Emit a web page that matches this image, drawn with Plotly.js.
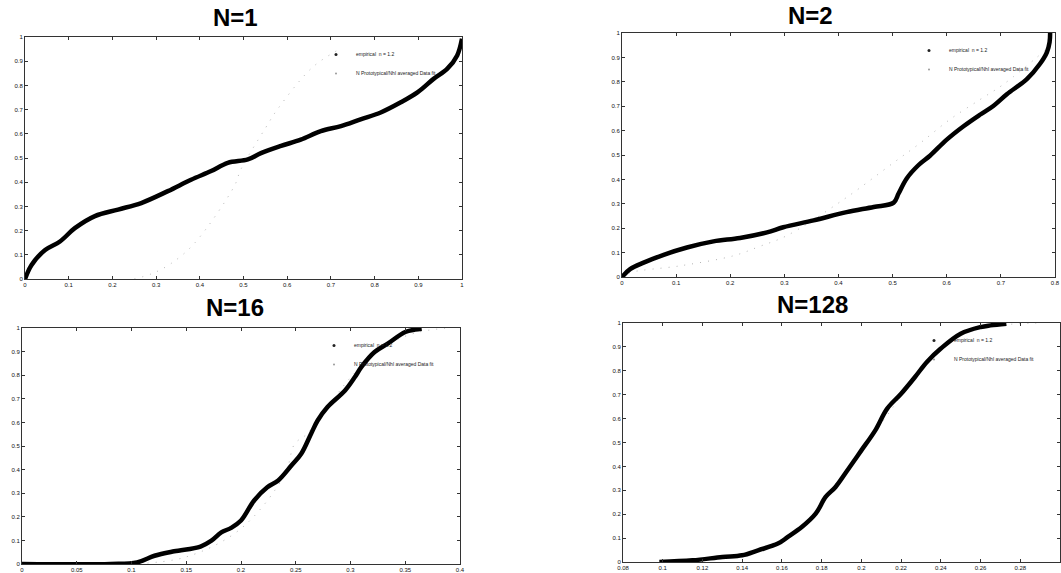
<!DOCTYPE html>
<html>
<head>
<meta charset="utf-8">
<script src="https://cdn.plot.ly/plotly-3.0.1.min.js"></script>
<style>html,body{margin:0;padding:0;background:#fff;}#chart{width:1061px;height:573px;}</style>
</head>
<body>
<div id="chart"></div>
<script>
// ---- data ----
const titles = ["N=1", "N=2", "N=16", "N=128"];
const legendNames = ["empirical  n = 1.2", "N Prototypical/Nhl averaged Data fit"];

// N=1
const n1EmpX = [0, 0.015, 0.046, 0.08, 0.114, 0.16, 0.213, 0.266, 0.327, 0.38, 0.426, 0.464, 0.51, 0.54, 0.586, 0.631, 0.677, 0.723, 0.768, 0.814, 0.86, 0.898, 0.935, 0.966, 0.989, 1.0];
const n1EmpY = [0, 0.058, 0.12, 0.155, 0.21, 0.26, 0.287, 0.314, 0.363, 0.41, 0.446, 0.48, 0.494, 0.52, 0.55, 0.576, 0.611, 0.632, 0.66, 0.688, 0.73, 0.771, 0.827, 0.868, 0.924, 0.993];
const n1RefX = [0.25, 0.293, 0.335, 0.388, 0.479, 0.494, 0.551, 0.578, 0.658, 0.72];
const n1RefY = [0.0, 0.024, 0.065, 0.148, 0.384, 0.453, 0.626, 0.702, 0.875, 0.95];

// N=2
const n2EmpX = [0, 0.015, 0.04, 0.077, 0.12, 0.169, 0.218, 0.268, 0.298, 0.354, 0.415, 0.465, 0.502, 0.511, 0.526, 0.548, 0.569, 0.6, 0.631, 0.662, 0.686, 0.711, 0.748, 0.772, 0.785, 0.79, 0.791];
const n2EmpY = [0, 0.032, 0.059, 0.091, 0.121, 0.146, 0.16, 0.183, 0.204, 0.232, 0.266, 0.287, 0.305, 0.342, 0.404, 0.459, 0.497, 0.563, 0.618, 0.666, 0.701, 0.749, 0.811, 0.873, 0.921, 0.963, 1.0];
const n2RefX = [0, 0.015, 0.108, 0.206, 0.255, 0.305, 0.409, 0.502, 0.551, 0.606, 0.662, 0.705, 0.785];
const n2RefY = [0, 0.018, 0.046, 0.087, 0.126, 0.17, 0.317, 0.469, 0.549, 0.646, 0.728, 0.79, 0.935];

// N=16
const n16EmpX = [0, 0.081, 0.105, 0.121, 0.139, 0.163, 0.173, 0.182, 0.191, 0.2, 0.212, 0.224, 0.234, 0.246, 0.255, 0.264, 0.27, 0.279, 0.295, 0.304, 0.31, 0.322, 0.334, 0.35, 0.359, 0.365];
const n16EmpY = [0, 0, 0.007, 0.035, 0.054, 0.074, 0.099, 0.134, 0.153, 0.184, 0.269, 0.325, 0.354, 0.417, 0.467, 0.552, 0.608, 0.665, 0.735, 0.792, 0.835, 0.898, 0.934, 0.983, 0.993, 0.997];
const n16RefX = [0.1, 0.15, 0.2, 0.24, 0.249, 0.26, 0.28, 0.3, 0.33, 0.36, 0.39];
const n16RefY = [0, 0.03, 0.15, 0.38, 0.509, 0.55, 0.67, 0.79, 0.92, 0.98, 1.0];

// N=128
const n128EmpX = [0.0983, 0.115, 0.13, 0.14, 0.148, 0.158, 0.163, 0.17, 0.177, 0.182, 0.187, 0.193, 0.2, 0.207, 0.213, 0.22, 0.227, 0.233, 0.24, 0.25, 0.26, 0.265, 0.273];
const n128EmpY = [0, 0.007, 0.021, 0.028, 0.049, 0.077, 0.105, 0.146, 0.202, 0.272, 0.314, 0.384, 0.467, 0.551, 0.642, 0.704, 0.774, 0.837, 0.893, 0.955, 0.983, 0.99, 0.997];
const n128RefX = [0.1, 0.13, 0.15, 0.17, 0.19, 0.2, 0.21, 0.23, 0.25, 0.27, 0.29];
const n128RefY = [0, 0.02, 0.06, 0.15, 0.36, 0.47, 0.58, 0.8, 0.95, 0.99, 1.0];

// axis ranges and tick values
const xRanges = [[0, 1], [0, 0.8], [0, 0.4], [0.08, 0.3]];
const xTicks = [
  [0, 0.1, 0.2, 0.3, 0.4, 0.5, 0.6, 0.7, 0.8, 0.9, 1],
  [0, 0.1, 0.2, 0.3, 0.4, 0.5, 0.6, 0.7, 0.8],
  [0, 0.05, 0.1, 0.15, 0.2, 0.25, 0.3, 0.35, 0.4],
  [0.08, 0.1, 0.12, 0.14, 0.16, 0.18, 0.2, 0.22, 0.24, 0.26, 0.28, 0.3]
];
const yTicks = [0, 0.1, 0.2, 0.3, 0.4, 0.5, 0.6, 0.7, 0.8, 0.9, 1];

// ---- build ----
const emp = [[n1EmpX, n1EmpY], [n2EmpX, n2EmpY], [n16EmpX, n16EmpY], [n128EmpX, n128EmpY]];
const ref = [[n1RefX, n1RefY], [n2RefX, n2RefY], [n16RefX, n16RefY], [n128RefX, n128RefY]];

// pixel boxes of the plot areas [left, right, top, bottom]
const W = 1061, H = 573;
const boxes = [[25, 462, 37, 279], [622, 1055, 33, 277], [22, 460, 328, 564], [623, 1060, 323, 562]];
const titlePos = [[235, 17], [810, 16], [235, 307], [812, 304]];

const traces = [];
const layout = {
  width: W, height: H,
  margin: {l: 0, r: 0, t: 0, b: 0},
  paper_bgcolor: '#ffffff', plot_bgcolor: '#ffffff',
  font: {family: 'Liberation Sans, Arial, sans-serif', color: '#000'},
  showlegend: true,
  annotations: []
};

for (let i = 0; i < 4; i++) {
  const s = i === 0 ? '' : String(i + 1);
  const lg = 'legend' + s;
  traces.push({
    x: ref[i][0], y: ref[i][1], xaxis: 'x' + s, yaxis: 'y' + s,
    mode: 'lines', line: {color: '#b5b5b5', width: 1, dash: '1px,7px', shape: 'spline'},
    name: legendNames[1], showlegend: false
  });
  traces.push({
    x: emp[i][0], y: emp[i][1], xaxis: 'x' + s, yaxis: 'y' + s,
    mode: 'lines', line: {color: '#000', width: 4.5, shape: 'spline'},
    name: legendNames[0], showlegend: false
  });
  // legend entries (thin samples, as in the original)
  traces.push({
    x: [null], y: [null], xaxis: 'x' + s, yaxis: 'y' + s,
    mode: 'markers', marker: {color: '#222', size: 3},
    name: legendNames[0], legend: lg
  });
  traces.push({
    x: [null], y: [null], xaxis: 'x' + s, yaxis: 'y' + s,
    mode: 'markers', marker: {color: '#999', size: 2},
    name: legendNames[1], legend: lg
  });
  const b = boxes[i];
  const common = {
    showline: true, mirror: 'ticks', linecolor: '#333', linewidth: 1,
    ticks: 'inside', ticklen: 3, tickcolor: '#333', showgrid: false, zeroline: false,
    tickfont: {size: 6, color: '#111'}
  };
  layout['xaxis' + s] = Object.assign({}, common, {
    domain: [b[0] / W, b[1] / W], range: xRanges[i],
    tickvals: xTicks[i], anchor: 'y' + s
  });
  layout['yaxis' + s] = Object.assign({}, common, {
    domain: [1 - b[3] / H, 1 - b[2] / H], range: [0, 1],
    tickvals: yTicks, anchor: 'x' + s
  });
  layout[lg] = {
    x: (b[1] - 20) / W, xanchor: 'right', y: 1 - (b[2] + 3) / H, yanchor: 'top',
    bgcolor: 'rgba(0,0,0,0)', borderwidth: 0,
    font: {size: 5, color: '#222'}, tracegroupgap: 0, itemwidth: 30
  };
  layout.annotations.push({
    text: '<b>' + titles[i] + '</b>', xref: 'paper', yref: 'paper',
    x: titlePos[i][0] / W, y: 1 - titlePos[i][1] / H, xanchor: 'center', yanchor: 'middle',
    showarrow: false, font: {size: 24, color: '#000', family: 'Liberation Sans, Arial, sans-serif'}
  });
}

Plotly.newPlot('chart', traces, layout, {staticPlot: true, displayModeBar: false});
</script>
</body>
</html>
